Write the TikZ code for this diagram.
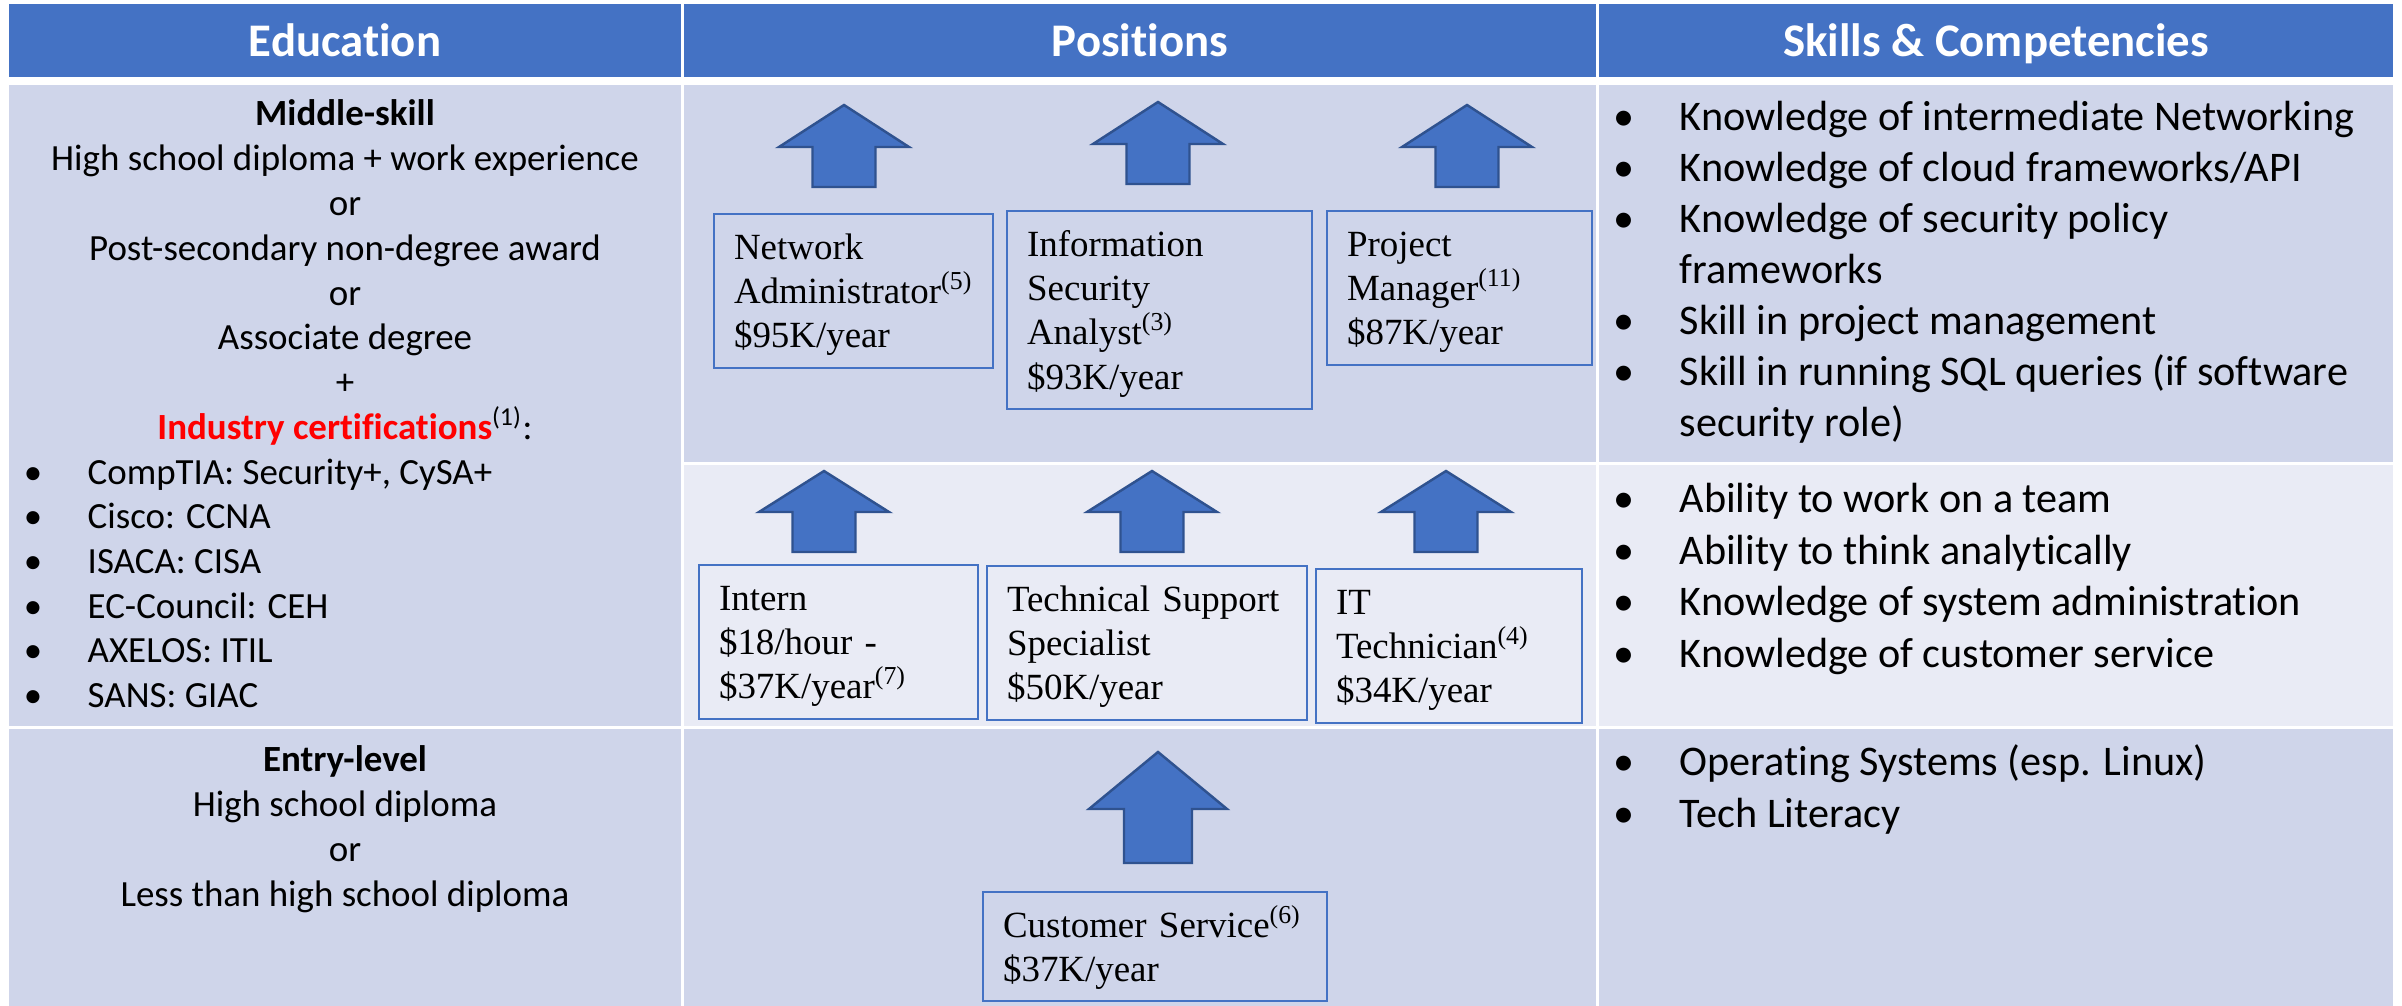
\documentclass[tikz,border=0pt]{standalone}
\usepackage{fontspec}
\setmainfont[Ligatures=NoCommon]{Carlito}
\newfontfamily\timesfont{Liberation Serif}

\definecolor{headblue}{HTML}{4472C4}
\definecolor{rowdark}{HTML}{CFD5EA}
\definecolor{rowlight}{HTML}{E9EBF5}
\definecolor{arrowedge}{HTML}{2F528F}
\definecolor{certred}{HTML}{FF0000}

\newcommand\headfont{\fontsize{13.3pt}{16pt}\selectfont\bfseries}
\newcommand\edufont{\fontsize{10.5pt}{12.6pt}\selectfont}
\newcommand\skillfont{\fontsize{12pt}{14.5pt}\selectfont}
\newcommand\jobfont{\timesfont\fontsize{10.5pt}{12.6pt}\selectfont\hyphenpenalty=10000 }

\tikzset{
  headtext/.style={anchor=base, inner sep=0pt, text=white, font=\headfont},
  edutext/.style={anchor=base, inner sep=0pt, font=\edufont},
  edulist/.style={anchor=base west, inner sep=0pt, font=\edufont},
  edubullet/.style={anchor=base, inner sep=0pt, font=\edufont},
  skilltext/.style={anchor=base west, inner sep=0pt, font=\skillfont},
  skillbullet/.style={anchor=base, inner sep=0pt, font=\skillfont},
  jobbox/.style={anchor=north west, draw=headblue, line width=0.6pt, align=left,
    inner xsep=0.2cm, inner ysep=0.06cm, font=\jobfont,
    execute at begin node={\rule{0pt}{0.39cm}},
    execute at end node={\rule[-0.14cm]{0pt}{0.14cm}}},
  blockarrow/.style={fill=headblue, draw=arrowedge, line width=0.7pt},
}

\begin{document}
\begin{tikzpicture}[x=0.01cm, y=-0.01cm]
        \useasboundingbox (0, 0) rectangle (2402, 1006);
        \fill[white] (0, 0) rectangle (2402, 1006);

        % table cells
        \fill[headblue] (9, 4) rectangle (681, 77);
        \fill[headblue] (684, 4) rectangle (1596, 77);
        \fill[headblue] (1599, 4) rectangle (2393, 77);
        \fill[rowdark] (9, 85) rectangle (681, 726);
        \fill[rowdark] (9, 729) rectangle (681, 1006);
        \fill[rowdark] (684, 85) rectangle (1596, 462);
        \fill[rowlight] (684, 465) rectangle (1596, 726);
        \fill[rowdark] (684, 729) rectangle (1596, 1006);
        \fill[rowdark] (1599, 85) rectangle (2393, 462);
        \fill[rowlight] (1599, 465) rectangle (2393, 726);
        \fill[rowdark] (1599, 729) rectangle (2393, 1006);

        \node[headtext] (eduhead) at (345, 57) {Education};
        \node[headtext] (poshead) at (1140, 57) {Positions};
        \node[headtext] (skillhead) at (1996, 57) {Skills \& Competencies};

        % education
        \node[edutext] (middle) at (345, 125) {\textbf{Middle-skill}};
        \node[edutext] (hsexp) at (345, 170) {High school diploma + work experience};
        \node[edutext] (orone) at (345, 215) {or};
        \node[edutext] (postsec) at (345, 260) {Post-secondary non-degree award};
        \node[edutext] (ortwo) at (345, 305) {or};
        \node[edutext] (assoc) at (345, 349) {Associate degree};
        \node[edutext] (plus) at (345, 394) {+};
        \node[edutext] (cert) at (345, 439) {\textcolor{certred}{\textbf{Industry certifications}}\textsuperscript{(1)}:};

        \node[edubullet] (ba) at (33, 484) {\textbullet};
        \node[edubullet] (bb) at (33, 528) {\textbullet};
        \node[edubullet] (bc) at (33, 573) {\textbullet};
        \node[edubullet] (bd) at (33, 618) {\textbullet};
        \node[edubullet] (be) at (33, 662) {\textbullet};
        \node[edubullet] (bf) at (33, 707) {\textbullet};
        \node[edulist] (comptia) at (87, 484) {CompTIA: Security+, CySA+};
        \node[edulist] (cisco) at (87, 528) {Cisco: CCNA};
        \node[edulist] (isaca) at (87, 573) {ISACA: CISA};
        \node[edulist] (eccouncil) at (87, 618) {EC-Council: CEH};
        \node[edulist] (axelos) at (87, 662) {AXELOS: ITIL};
        \node[edulist] (sans) at (87, 707) {SANS: GIAC};

        \node[edutext] (entry) at (345, 771) {\textbf{Entry-level}};
        \node[edutext] (hsdip) at (345, 816) {High school diploma};
        \node[edutext] (orthree) at (345, 861) {or};
        \node[edutext] (lessthan) at (345, 906) {Less than high school diploma};

        % positions
        \draw[blockarrow] (844, 105) -- ++(65, 42) -- ++(-33.5, 0) -- ++(0, 40) -- ++(-63, 0) -- ++(0, -40) -- ++(-33.5, 0) -- cycle;
        \draw[blockarrow] (1158, 102) -- ++(65, 42) -- ++(-33.5, 0) -- ++(0, 40) -- ++(-63, 0) -- ++(0, -40) -- ++(-33.5, 0) -- cycle;
        \draw[blockarrow] (1467, 105) -- ++(65, 42) -- ++(-33.5, 0) -- ++(0, 40) -- ++(-63, 0) -- ++(0, -40) -- ++(-33.5, 0) -- cycle;
        \draw[blockarrow] (824, 471) -- ++(65, 41) -- ++(-33.5, 0) -- ++(0, 40) -- ++(-63, 0) -- ++(0, -40) -- ++(-33.5, 0) -- cycle;
        \draw[blockarrow] (1152, 471) -- ++(65, 41) -- ++(-33.5, 0) -- ++(0, 40) -- ++(-63, 0) -- ++(0, -40) -- ++(-33.5, 0) -- cycle;
        \draw[blockarrow] (1446, 471) -- ++(65, 41) -- ++(-33.5, 0) -- ++(0, 40) -- ++(-63, 0) -- ++(0, -40) -- ++(-33.5, 0) -- cycle;
        \draw[blockarrow] (1158, 752) -- ++(69, 57) -- ++(-35, 0) -- ++(0, 54) -- ++(-68, 0) -- ++(0, -54) -- ++(-35, 0) -- cycle;

        \node[jobbox, text width=2.39cm] (netadmin) at (713, 213) {Network\\Administrator\textsuperscript{(5)}\\\$95K/year};
        \node[jobbox, text width=2.65cm] (infosec) at (1006, 210) {Information\\Security\\Analyst\textsuperscript{(3)}\\\$93K/year};
        \node[jobbox, text width=2.25cm] (projmgr) at (1326, 210) {Project\\Manager\textsuperscript{(11)}\\\$87K/year};
        \node[jobbox, text width=2.39cm] (intern) at (698, 564) {Intern\\\$18/hour -\\\$37K/year\textsuperscript{(7)}};
        \node[jobbox, text width=2.80cm] (techsupp) at (986, 565) {Technical Support\\Specialist\\\$50K/year};
        \node[jobbox, text width=2.26cm] (ittech) at (1315, 568) {IT\\Technician\textsuperscript{(4)}\\\$34K/year};
        \node[jobbox, text width=3.04cm] (custserv) at (982, 891) {Customer Service\textsuperscript{(6)}\\\$37K/year};

        % skills
        \node[skillbullet] (sa) at (1624, 130) {\textbullet};
        \node[skillbullet] (sb) at (1624, 181) {\textbullet};
        \node[skillbullet] (sc) at (1624, 232) {\textbullet};
        \node[skillbullet] (sd) at (1624, 334) {\textbullet};
        \node[skillbullet] (se) at (1624, 385) {\textbullet};
        \node[skilltext] (interm) at (1679, 130) {Knowledge of intermediate Networking};
        \node[skilltext] (cloud) at (1679, 181) {Knowledge of cloud frameworks/API};
        \node[skilltext] (policy) at (1679, 232) {Knowledge of security policy};
        \node[skilltext] (policytwo) at (1679, 283) {frameworks};
        \node[skilltext] (project) at (1679, 334) {Skill in project management};
        \node[skilltext] (sql) at (1679, 385) {Skill in running SQL queries (if software};
        \node[skilltext] (sqltwo) at (1679, 436) {security role)};

        \node[skillbullet] (sf) at (1624, 512) {\textbullet};
        \node[skillbullet] (sg) at (1624, 564) {\textbullet};
        \node[skillbullet] (sh) at (1624, 615) {\textbullet};
        \node[skillbullet] (si) at (1624, 667) {\textbullet};
        \node[skilltext] (team) at (1679, 512) {Ability to work on a team};
        \node[skilltext] (think) at (1679, 564) {Ability to think analytically};
        \node[skilltext] (sysadm) at (1679, 615) {Knowledge of system administration};
        \node[skilltext] (custom) at (1679, 667) {Knowledge of customer service};

        \node[skillbullet] (sj) at (1624, 775) {\textbullet};
        \node[skillbullet] (sk) at (1624, 827) {\textbullet};
        \node[skilltext] (opsys) at (1679, 775) {Operating Systems (esp. Linux)};
        \node[skilltext] (literacy) at (1679, 827) {Tech Literacy};
\end{tikzpicture}
\end{document}
